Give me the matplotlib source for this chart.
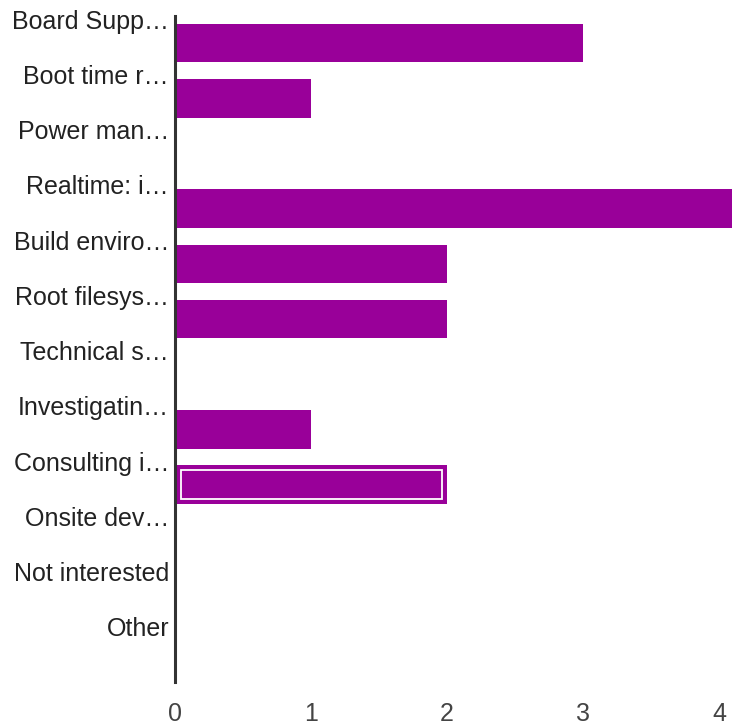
import numpy as np
import matplotlib
matplotlib.use("Agg")
import matplotlib.pyplot as plt

# Données du graphique
categories = ["Board Supp…", "Boot time r…", "Power man…", "Realtime: i…",
              "Build enviro…", "Root filesys…", "Technical s…", "Investigatin…",
              "Consulting i…", "Onsite dev…", "Not interested", "Other"]
valeurs = [3, 1, 0, 4.1, 2, 2, 0, 1, 2, 0, 0, 0]
ticks_x = [0, 1, 2, 3, 4]
surligne = ["Consulting i…"]

plt.rcParams['font.family'] = ['Liberation Sans', 'DejaVu Sans']

fig = plt.figure(figsize=(7.32, 7.28), dpi=100)
ax = fig.add_axes([175 / 732, 50 / 728, 544 / 732, 662.5 / 728])

y = np.arange(len(categories))
hauteur = 0.7
ax.barh(y, valeurs, height=hauteur, color='#990099', clip_on=False, zorder=2)

# Contour blanc intérieur pour la barre surlignée
for nom in surligne:
    i = categories.index(nom)
    dx = 5.5 / 136
    dy = 5 / 55.2
    ax.barh(i, valeurs[i] - 2 * dx, left=dx, height=hauteur - 2 * dy,
            facecolor='none', edgecolor='white', linewidth=1.3, zorder=3)

ax.set_xlim(0, 4)
ax.set_ylim(len(categories) - 0.5, -0.5)

# Étiquettes décalées vers le haut de chaque tranche
ax.set_yticks(y - 0.43)
ax.set_yticklabels(categories, fontsize=18, color='#222222')
ax.set_xticks(ticks_x)
ax.set_xticklabels([str(t) for t in ticks_x], fontsize=18, color='#444444')
ax.tick_params(axis='y', length=0, pad=4.3)
ax.tick_params(axis='x', length=0, pad=17)

for cote in ['top', 'right', 'bottom']:
    ax.spines[cote].set_visible(False)
ax.spines['left'].set_linewidth(2.2)
ax.spines['left'].set_color('#333333')
ax.spines['left'].set_zorder(4)
ax.spines['left'].set_bounds(len(categories) - 0.5 + 0.07, -0.5)

plt.savefig("out.png", dpi=100)
